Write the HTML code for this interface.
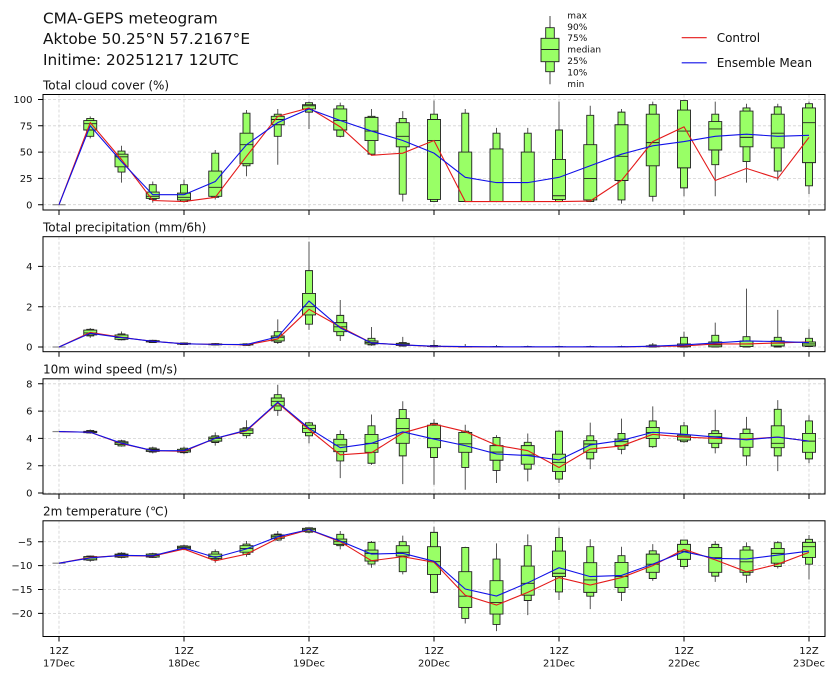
<!DOCTYPE html>
<html><head><meta charset="utf-8">
<style>
html,body{margin:0;padding:0;background:#fff;}
svg{display:block;font-family:"DejaVu Sans","Liberation Sans",sans-serif;}
.d path,.d polyline{vector-effect:non-scaling-stroke;}
.w{fill:none;stroke:#555;stroke-width:1;}
.b{fill:#99ff66;stroke:#222;stroke-width:0.9;}
.m{fill:none;stroke:#222;stroke-width:0.9;}
.z{fill:none;stroke:#888;stroke-width:1.2;}
.c{fill:none;stroke:#e41a1a;stroke-width:1.1;}
.e{fill:none;stroke:#1010e8;stroke-width:1.1;}
.g{stroke:#d2d2d2;stroke-width:0.8;stroke-dasharray:3,2;fill:none;}
.t{stroke:#000;stroke-width:1;fill:none;}
.yl{font-size:10px;text-anchor:end;fill:#111;}
.xl{font-size:10px;text-anchor:middle;fill:#111;}
.pt{font-size:12px;fill:#111;}
</style></head><body>
<svg width="838" height="680" viewBox="0 0 838 680" xmlns="http://www.w3.org/2000/svg">
<!-- Title -->
<text x="43" y="23.3" font-size="15.3" fill="#111">CMA-GEPS meteogram</text>
<text x="43" y="44.2" font-size="15.3" fill="#111">Aktobe 50.25°N 57.2167°E</text>
<text x="43" y="65" font-size="15.3" fill="#111">Initime: 20251217 12UTC</text>

<!-- Box legend -->
<path d="M550,16V84.3" stroke="#444" stroke-width="1"/>
<rect x="545.7" y="27.7" width="8.6" height="44" fill="#99ff66" stroke="#222" stroke-width="0.9"/>
<rect x="541" y="38.3" width="18" height="23.4" fill="#99ff66" stroke="#222" stroke-width="0.9"/>
<path d="M541,49.5H559" stroke="#222" stroke-width="0.9"/>
<g font-size="9" fill="#111">
<text x="567.3" y="18.3">max</text>
<text x="567.3" y="29.8">90%</text>
<text x="567.3" y="41.2">75%</text>
<text x="567.3" y="52.7">median</text>
<text x="567.3" y="64.2">25%</text>
<text x="567.3" y="75.6">10%</text>
<text x="567.3" y="87">min</text>
</g>
<!-- Line legend -->
<path d="M681.7,37.7H706.7" stroke="#e41a1a" stroke-width="1.1"/>
<text x="716.7" y="42.2" font-size="12" fill="#111">Control</text>
<path d="M681.7,62.8H706.7" stroke="#1010e8" stroke-width="1.1"/>
<text x="716.7" y="67" font-size="12" fill="#111">Ensemble Mean</text>

<!-- ================= Panel 1 ================= -->
<text class="pt" x="43" y="89.3">Total cloud cover (%)</text>
<g class="g">
<path d="M43,204.7H825M43,178.4H825M43,152.1H825M43,125.8H825M43,99.5H825"/>
<path d="M59,94.5V210M184,94.5V210M309,94.5V210M434,94.5V210M559,94.5V210M684,94.5V210M809,94.5V210"/>
</g>
<g class="d" transform="translate(0,204.7) scale(1,-1.052)">
<path class="w" d="M90.25,63V84 M121.5,21V56 M152.75,2V22 M184,2V24 M215.25,5V52 M246.5,27V90 M277.75,38V91 M309,72V98 M340.25,64V97 M371.5,47V91 M402.75,3V89 M434,2.5V99 M465.25,2.5V91 M496.5,2.5V73 M527.75,2.5V73 M559,2.5V98 M590.25,2.5V94 M621.5,1V91 M652.75,3V98 M684,8V99 M715.25,8V98 M746.5,21V96 M777.75,23V96 M809,10V98"/>
<path class="b" d="M86.75,65h7V82h-7Z M118,31h7V51h-7Z M149.25,5h7V19h-7Z M180.5,3h7V19h-7Z M211.75,7h7V49h-7Z M243,37h7V87h-7Z M274.25,65h7V86h-7Z M305.5,88h7V97h-7Z M336.75,65h7V94h-7Z M368,48h7V84h-7Z M399.25,10h7V82h-7Z M430.5,3h7V86h-7Z M461.75,3h7V87h-7Z M493,3h7V68h-7Z M524.25,3h7V68h-7Z M555.5,3h7V71h-7Z M586.75,3h7V85h-7Z M618,4.5h7V88h-7Z M649.25,8h7V95h-7Z M680.5,16h7V99h-7Z M711.75,38h7V86h-7Z M743,41h7V92h-7Z M774.25,32h7V93h-7Z M805.5,18h7V96h-7Z"/>
<path class="b" d="M83.75,71h13V80h-13Z M115,36h13V48h-13Z M146.25,6h13V12h-13Z M177.5,4.5h13V11h-13Z M208.75,8h13V32h-13Z M240,39h13V68h-13Z M271.25,76h13V84h-13Z M302.5,91h13V95h-13Z M333.75,71h13V91h-13Z M365,61h13V83h-13Z M396.25,55h13V78h-13Z M427.5,5h13V81h-13Z M458.75,3h13V50h-13Z M490,3h13V53h-13Z M521.25,3h13V50h-13Z M552.5,5h13V43h-13Z M583.75,4.5h13V57h-13Z M615,23h13V76h-13Z M646.25,37h13V86h-13Z M677.5,35h13V90h-13Z M708.75,52h13V79h-13Z M740,55h13V89h-13Z M771.25,54h13V86h-13Z M802.5,40h13V92h-13Z"/>
<path class="m" d="M83.75,77h13 M115,45.5h13 M146.25,8h13 M177.5,7h13 M208.75,16.5h13 M240,57h13 M271.25,81h13 M302.5,94h13 M333.75,80h13 M365,70h13 M396.25,65h13 M427.5,61h13 M458.75,3h13 M490,3h13 M521.25,3h13 M552.5,8.5h13 M583.75,25h13 M615,46h13 M646.25,59h13 M677.5,70h13 M708.75,72h13 M740,64h13 M771.25,68h13 M802.5,78h13"/>
<path class="z" d="M52.5,0h13"/>
<polyline class="c" points="59,0 90.25,78 121.5,43 152.75,4 184,3 215.25,7 246.5,46 277.75,84 309,92 340.25,74 371.5,47 402.75,49 434,61 465.25,3 496.5,3 527.75,3 559,3 590.25,3.5 621.5,23 652.75,60 684,74 715.25,23 746.5,34.5 777.75,25 809,64"/>
<polyline class="e" points="59,0 90.25,75 121.5,41 152.75,9.5 184,9.5 215.25,22 246.5,57 277.75,78 309,91 340.25,80 371.5,70 402.75,61 434,49 465.25,26 496.5,21 527.75,21 559,26 590.25,37 621.5,48 652.75,56 684,60 715.25,65 746.5,67 777.75,65 809,66"/>
</g>
<rect x="43" y="94.5" width="782" height="115.5" class="t"/>
<path class="t" d="M38,204.7H43M38,178.4H43M38,152.1H43M38,125.8H43M38,99.5H43 M59,210V215M184,210V215M309,210V215M434,210V215M559,210V215M684,210V215M809,210V215"/>
<text class="yl" x="32.5" y="208.3">0</text>
<text class="yl" x="32.5" y="182">25</text>
<text class="yl" x="32.5" y="155.7">50</text>
<text class="yl" x="32.5" y="129.4">75</text>
<text class="yl" x="32.5" y="103.1">100</text>

<!-- ================= Panel 2 ================= -->
<text class="pt" x="43" y="231.3">Total precipitation (mm/6h)</text>
<g class="g">
<path d="M43,347H825M43,306.7H825M43,266.4H825"/>
<path d="M59,236.7V351.7M184,236.7V351.7M309,236.7V351.7M434,236.7V351.7M559,236.7V351.7M684,236.7V351.7M809,236.7V351.7"/>
</g>
<g class="d" transform="translate(0,347) scale(1,-20.15)">
<path class="w" d="M90.25,.45V.94 M121.5,.33V.77 M152.75,.2V.36 M184,.1V.22 M215.25,.08V.2 M246.5,.06V.18 M277.75,.15V1.37 M309,.85V5.23 M340.25,.3V2.33 M371.5,.06V.99 M402.75,.02V.5 M434,0V.35 M465.25,0V.15 M496.5,0V.1 M527.75,0V.07 M559,0V.07 M590.25,0V.07 M621.5,0V.07 M652.75,0V.2 M684,0V.76 M715.25,0V1.21 M746.5,0V2.9 M777.75,0V1.84 M809,0V.89"/>
<path class="b" d="M86.75,.55h7V.88h-7Z M118,.36h7V.65h-7Z M149.25,.22h7V.33h-7Z M180.5,.12h7V.2h-7Z M211.75,.1h7V.17h-7Z M243,.08h7V.16h-7Z M274.25,.23h7V.76h-7Z M305.5,1.13h7V3.79h-7Z M336.75,.56h7V1.57h-7Z M368,.1h7V.43h-7Z M399.25,.05h7V.22h-7Z M430.5,.01h7V.08h-7Z M461.75,0h7V.03h-7Z M493,0h7V.02h-7Z M524.25,0h7V.02h-7Z M555.5,0h7V.02h-7Z M586.75,0h7V.02h-7Z M618,0h7V.02h-7Z M649.25,0h7V.1h-7Z M680.5,0h7V.48h-7Z M711.75,0h7V.58h-7Z M743,0h7V.51h-7Z M774.25,0h7V.48h-7Z M805.5,.02h7V.43h-7Z"/>
<path class="b" d="M83.75,.6h13V.84h-13Z M115,.38h13V.6h-13Z M146.25,.25h13V.31h-13Z M177.5,.14h13V.18h-13Z M208.75,.11h13V.15h-13Z M240,.1h13V.14h-13Z M271.25,.3h13V.55h-13Z M302.5,1.59h13V2.66h-13Z M333.75,.76h13V1.21h-13Z M365,.15h13V.3h-13Z M396.25,.08h13V.18h-13Z M427.5,.02h13V.05h-13Z M458.75,0h13V.02h-13Z M490,0h13V.01h-13Z M521.25,0h13V.01h-13Z M552.5,0h13V.01h-13Z M583.75,0h13V.01h-13Z M615,0h13V.01h-13Z M646.25,.01h13V.06h-13Z M677.5,.01h13V.15h-13Z M708.75,.01h13V.25h-13Z M740,.02h13V.3h-13Z M771.25,.05h13V.3h-13Z M802.5,.05h13V.25h-13Z"/>
<path class="m" d="M83.75,.7h13 M115,.47h13 M146.25,.28h13 M177.5,.16h13 M208.75,.13h13 M240,.12h13 M271.25,.48h13 M302.5,2h13 M333.75,1h13 M365,.22h13 M396.25,.12h13 M427.5,.03h13 M458.75,.01h13 M490,.01h13 M521.25,0h13 M552.5,0h13 M583.75,0h13 M615,0h13 M646.25,.03h13 M677.5,.06h13 M708.75,.1h13 M740,.15h13 M771.25,.19h13 M802.5,.15h13"/>
<path class="z" d="M52.5,0h13"/>
<polyline class="c" points="59,0 90.25,.72 121.5,.48 152.75,.28 184,.16 215.25,.13 246.5,.11 277.75,.4 309,1.87 340.25,1 371.5,.2 402.75,.1 434,.03 465.25,.01 496.5,0 527.75,0 559,0 590.25,0 621.5,0 652.75,.03 684,.05 715.25,.15 746.5,.15 777.75,.2 809,.25"/>
<polyline class="e" points="59,0 90.25,.68 121.5,.47 152.75,.28 184,.16 215.25,.13 246.5,.12 277.75,.5 309,2.28 340.25,.95 371.5,.2 402.75,.1 434,.04 465.25,.02 496.5,.01 527.75,.01 559,.01 590.25,.01 621.5,.01 652.75,.04 684,.1 715.25,.2 746.5,.3 777.75,.27 809,.22"/>
</g>
<rect x="43" y="236.7" width="782" height="115" class="t"/>
<path class="t" d="M38,347H43M38,306.7H43M38,266.4H43 M59,351.7V356.7M184,351.7V356.7M309,351.7V356.7M434,351.7V356.7M559,351.7V356.7M684,351.7V356.7M809,351.7V356.7"/>
<text class="yl" x="32.5" y="350.6">0</text>
<text class="yl" x="32.5" y="310.3">2</text>
<text class="yl" x="32.5" y="270">4</text>

<!-- ================= Panel 3 ================= -->
<text class="pt" x="43" y="373.4">10m wind speed (m/s)</text>
<g class="g">
<path d="M43,493H825M43,465.7H825M43,438.4H825M43,411.1H825M43,383.8H825"/>
<path d="M59,378.8V494M184,378.8V494M309,378.8V494M434,378.8V494M559,378.8V494M684,378.8V494M809,378.8V494"/>
</g>
<g class="d" transform="translate(0,493) scale(1,-13.65)">
<path class="w" d="M90.25,4.35V4.65 M121.5,3.4V3.9 M152.75,2.9V3.4 M184,2.85V3.4 M215.25,3.47V4.44 M246.5,4V5.33 M277.75,5.65V7.93 M309,3.64V5.21 M340.25,1.09V4.6 M371.5,2.06V5.75 M402.75,0.65V6.72 M434,0.6V5.4 M465.25,0.24V5 M496.5,0.73V4.24 M527.75,0.85V4.36 M559,0.73V4.6 M590.25,1.75V5.16 M621.5,2.84V5.45 M652.75,3.3V6.35 M684,3.68V5.2 M715.25,2.9V6.1 M746.5,2V5.58 M777.75,1.6V6.8 M809,2.18V5.7"/>
<path class="b" d="M86.75,4.4h7V4.58h-7Z M118,3.45h7V3.82h-7Z M149.25,3h7V3.3h-7Z M180.5,2.95h7V3.28h-7Z M211.75,3.7h7V4.19h-7Z M243,4.2h7V4.78h-7Z M274.25,6.06h7V7.2h-7Z M305.5,4.19h7V5.14h-7Z M336.75,2.35h7V4.29h-7Z M368,2.18h7V4.92h-7Z M399.25,2.72h7V6.11h-7Z M430.5,2.6h7V5.1h-7Z M461.75,1.87h7V4.53h-7Z M493,1.65h7V4.07h-7Z M524.25,1.75h7V3.71h-7Z M555.5,1.02h7V4.53h-7Z M586.75,2.5h7V4.19h-7Z M618,3.2h7V4.36h-7Z M649.25,3.39h7V5.28h-7Z M680.5,3.76h7V4.92h-7Z M711.75,3.32h7V4.56h-7Z M743,2.72h7V4.68h-7Z M774.25,2.72h7V6.13h-7Z M805.5,2.5h7V5.28h-7Z"/>
<path class="b" d="M83.75,4.42h13V4.52h-13Z M115,3.55h13V3.75h-13Z M146.25,3.05h13V3.22h-13Z M177.5,3h13V3.2h-13Z M208.75,3.8h13V4.1h-13Z M240,4.36h13V4.7h-13Z M271.25,6.38h13V6.96h-13Z M302.5,4.44h13V4.97h-13Z M333.75,3.03h13V3.93h-13Z M365,2.98h13V4.29h-13Z M396.25,3.64h13V5.45h-13Z M427.5,3.32h13V4.97h-13Z M458.75,2.98h13V4.44h-13Z M490,2.4h13V3.47h-13Z M521.25,2.11h13V3.47h-13Z M552.5,1.58h13V2.84h-13Z M583.75,2.98h13V3.83h-13Z M615,3.47h13V3.95h-13Z M646.25,4h13V4.8h-13Z M677.5,3.88h13V4.24h-13Z M708.75,3.64h13V4.36h-13Z M740,3.35h13V4.36h-13Z M771.25,3.32h13V4.92h-13Z M802.5,2.98h13V4.36h-13Z"/>
<path class="m" d="M83.75,4.47h13 M115,3.67h13 M146.25,3.15h13 M177.5,3.1h13 M208.75,4h13 M240,4.6h13 M271.25,6.72h13 M302.5,4.73h13 M333.75,3.52h13 M365,3.64h13 M396.25,4.73h13 M427.5,4h13 M458.75,3.6h13 M490,3h13 M521.25,2.79h13 M552.5,2.25h13 M583.75,3.59h13 M615,3.76h13 M646.25,4.44h13 M677.5,4.12h13 M708.75,4.12h13 M740,3.95h13 M771.25,3.64h13 M802.5,3.8h13"/>
<path class="z" d="M52.5,4.5h13"/>
<polyline class="c" points="59,4.5 90.25,4.45 121.5,3.62 152.75,3.1 184,3.05 215.25,4 246.5,4.55 277.75,6.6 309,4.65 340.25,2.8 371.5,2.95 402.75,4.4 434,5.05 465.25,4.5 496.5,3.5 527.75,3.1 559,1.87 590.25,3.22 621.5,3.45 652.75,4.3 684,4.1 715.25,4 746.5,3.95 777.75,4.1 809,3.8"/>
<polyline class="e" points="59,4.5 90.25,4.45 121.5,3.65 152.75,3.1 184,3.1 215.25,4 246.5,4.6 277.75,6.65 309,4.75 340.25,3.32 371.5,3.64 402.75,4.48 434,3.95 465.25,3.47 496.5,2.86 527.75,2.74 559,2.42 590.25,3.52 621.5,3.85 652.75,4.45 684,4.3 715.25,4.1 746.5,3.9 777.75,4.1 809,3.8"/>
</g>
<rect x="43" y="378.8" width="782" height="115.2" class="t"/>
<path class="t" d="M38,493H43M38,465.7H43M38,438.4H43M38,411.1H43M38,383.8H43 M59,494V499M184,494V499M309,494V499M434,494V499M559,494V499M684,494V499M809,494V499"/>
<text class="yl" x="32.5" y="496.6">0</text>
<text class="yl" x="32.5" y="469.3">2</text>
<text class="yl" x="32.5" y="442">4</text>
<text class="yl" x="32.5" y="414.7">6</text>
<text class="yl" x="32.5" y="387.4">8</text>

<!-- ================= Panel 4 ================= -->
<text class="pt" x="43" y="515.4">2m temperature (℃)</text>
<g class="g">
<path d="M43,541.7H825M43,565.6H825M43,589.5H825M43,613.4H825"/>
<path d="M59,520.8V636.5M184,520.8V636.5M309,520.8V636.5M434,520.8V636.5M559,520.8V636.5M684,520.8V636.5M809,520.8V636.5"/>
</g>
<g class="d" transform="translate(0,517.8) scale(1,-4.78)">
<path class="w" d="M90.25,-9.2V-7.9 M121.5,-8.5V-7.2 M152.75,-8.4V-7.3 M184,-6.8V-5.6 M215.25,-9.4V-6.6 M246.5,-8.14V-4.86 M277.75,-4.86V-2.77 M309,-3.25V-2.07 M340.25,-6.6V-2.77 M371.5,-10.44V-4.86 M402.75,-11.84V-3.74 M434,-15.8V-1.86 M465.25,-22.1V-6.05 M496.5,-23.7V-5.35 M527.75,-20.35V-3.46 M559,-17.2V-2.07 M590.25,-19.1V-4.5 M621.5,-17.4V-6.05 M652.75,-13.2V-5.5 M684,-10.8V-4.65 M715.25,-13.4V-4.86 M746.5,-13.6V-5.14 M777.75,-10.6V-4.86 M809,-12.9V-3.6"/>
<path class="b" d="M86.75,-8.9h7V-8h-7Z M118,-8.3h7V-7.4h-7Z M149.25,-8.3h7V-7.5h-7Z M180.5,-6.6h7V-5.85h-7Z M211.75,-8.8h7V-7.1h-7Z M243,-7.65h7V-5.5h-7Z M274.25,-4.65h7V-3.4h-7Z M305.5,-3h7V-2.1h-7Z M336.75,-5.84h7V-3.46h-7Z M368,-9.68h7V-5.14h-7Z M399.25,-11.28h7V-5h-7Z M430.5,-15.6h7V-3.05h-7Z M461.75,-21.05h7V-6.19h-7Z M493,-22.3h7V-8.63h-7Z M524.25,-17.3h7V-5.84h-7Z M555.5,-15.5h7V-4.1h-7Z M586.75,-16.4h7V-6.05h-7Z M618,-15.6h7V-7.93h-7Z M649.25,-12.7h7V-6.9h-7Z M680.5,-10.2h7V-4.65h-7Z M711.75,-12.2h7V-5.56h-7Z M743,-12h7V-6.05h-7Z M774.25,-10.2h7V-5.2h-7Z M805.5,-9.7h7V-4.5h-7Z"/>
<path class="b" d="M83.75,-8.8h13V-8.1h-13Z M115,-8.2h13V-7.6h-13Z M146.25,-8.2h13V-7.6h-13Z M177.5,-6.5h13V-5.95h-13Z M208.75,-8.5h13V-7.58h-13Z M240,-7.2h13V-5.84h-13Z M271.25,-4.3h13V-3.6h-13Z M302.5,-2.9h13V-2.2h-13Z M333.75,-5.56h13V-4.44h-13Z M365,-9.05h13V-6.74h-13Z M396.25,-8h13V-5.84h-13Z M427.5,-11.84h13V-6.05h-13Z M458.75,-18.75h13V-11.28h-13Z M490,-20.14h13V-13.16h-13Z M521.25,-16.2h13V-10.1h-13Z M552.5,-12.3h13V-6.95h-13Z M583.75,-15.6h13V-9.4h-13Z M615,-14.6h13V-9.33h-13Z M646.25,-11.4h13V-7.6h-13Z M677.5,-8.7h13V-5.56h-13Z M708.75,-11.4h13V-6.19h-13Z M740,-11.4h13V-6.74h-13Z M771.25,-9.5h13V-6.4h-13Z M802.5,-8.3h13V-5.14h-13Z"/>
<path class="m" d="M83.75,-8.4h13 M115,-7.8h13 M146.25,-7.9h13 M177.5,-6.2h13 M208.75,-8.14h13 M240,-6.4h13 M271.25,-3.95h13 M302.5,-2.4h13 M333.75,-5h13 M365,-7.44h13 M396.25,-7.23h13 M427.5,-9.19h13 M458.75,-16.4h13 M490,-17.7h13 M521.25,-13.7h13 M552.5,-11.6h13 M583.75,-13h13 M615,-12.3h13 M646.25,-9.7h13 M677.5,-7h13 M708.75,-8.35h13 M740,-9.2h13 M771.25,-7.44h13 M802.5,-6.05h13"/>
<path class="z" d="M52.5,-9.5h13"/>
<polyline class="c" points="59,-9.5 90.25,-8.3 121.5,-7.9 152.75,-8 184,-6.55 215.25,-9 246.5,-7.6 277.75,-4.3 309,-2.5 340.25,-5 371.5,-8.98 402.75,-8.14 434,-9.3 465.25,-16.2 496.5,-18.26 527.75,-15.6 559,-12.5 590.25,-14.07 621.5,-12.5 652.75,-10 684,-6.6 715.25,-8.8 746.5,-11.3 777.75,-9.7 809,-7.23"/>
<polyline class="e" points="59,-9.5 90.25,-8.4 121.5,-7.85 152.75,-7.95 184,-6.3 215.25,-8.3 246.5,-6.5 277.75,-3.95 309,-2.45 340.25,-4.85 371.5,-7.58 402.75,-7.44 434,-9.1 465.25,-14.9 496.5,-16.37 527.75,-13.6 559,-10.44 590.25,-12.3 621.5,-12.05 652.75,-9.7 684,-7.1 715.25,-8.5 746.5,-8.6 777.75,-7.8 809,-6.95"/>
</g>
<rect x="43" y="520.8" width="782" height="115.7" class="t"/>
<path class="t" d="M38,541.7H43M38,565.6H43M38,589.5H43M38,613.4H43 M59,636.5V641.5M184,636.5V641.5M309,636.5V641.5M434,636.5V641.5M559,636.5V641.5M684,636.5V641.5M809,636.5V641.5"/>
<text class="yl" x="32.5" y="545.3">−5</text>
<text class="yl" x="32.5" y="569.2">−10</text>
<text class="yl" x="32.5" y="593.1">−15</text>
<text class="yl" x="32.5" y="617">−20</text>

<!-- X tick labels -->
<g class="xl">
<text x="59" y="654">12Z</text><text x="59" y="666.3">17Dec</text>
<text x="184" y="654">12Z</text><text x="184" y="666.3">18Dec</text>
<text x="309" y="654">12Z</text><text x="309" y="666.3">19Dec</text>
<text x="434" y="654">12Z</text><text x="434" y="666.3">20Dec</text>
<text x="559" y="654">12Z</text><text x="559" y="666.3">21Dec</text>
<text x="684" y="654">12Z</text><text x="684" y="666.3">22Dec</text>
<text x="809" y="654">12Z</text><text x="809" y="666.3">23Dec</text>
</g>
</svg>
</body></html>
